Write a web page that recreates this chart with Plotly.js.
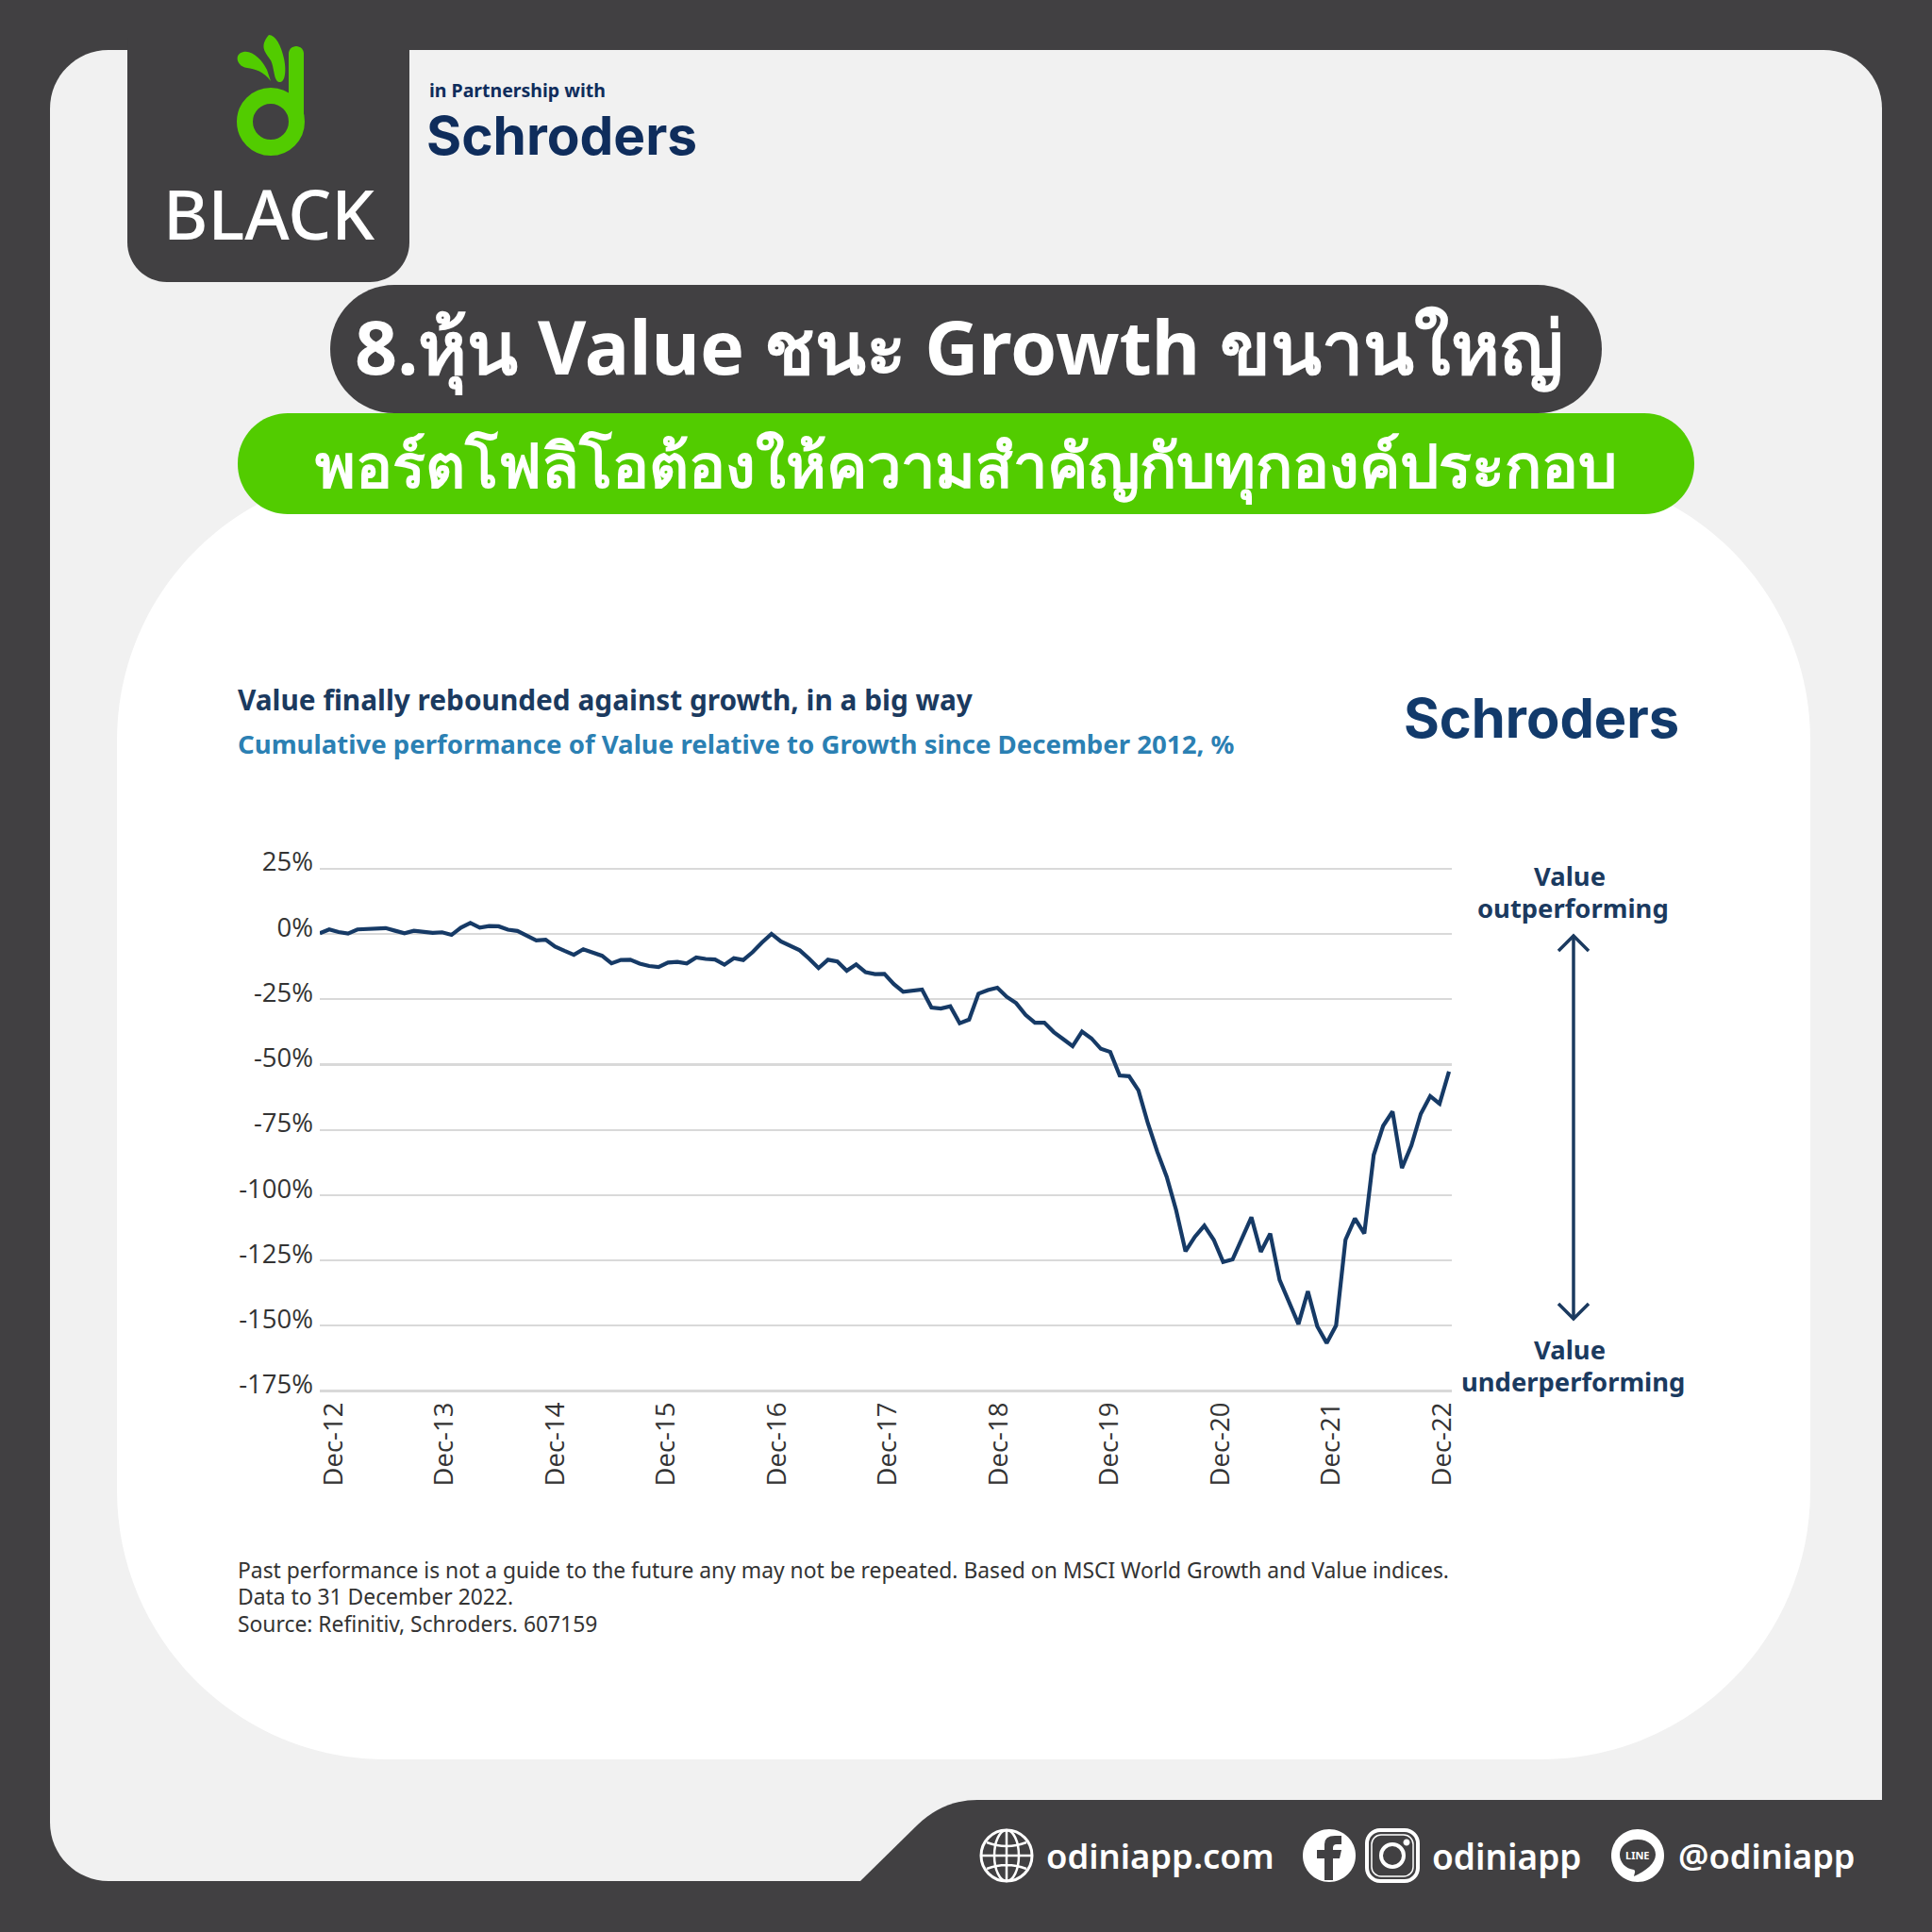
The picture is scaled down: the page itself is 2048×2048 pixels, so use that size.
<!DOCTYPE html>
<html><head><meta charset="utf-8">
<script src="https://cdn.plot.ly/plotly-3.0.1.min.js"></script>
<style>html,body{margin:0;padding:0;background:#414042}#c{width:2048px;height:2048px}</style>
</head><body><div id="c"></div>
<script>
// ---------- chart data ----------
const relativePerformance = [
 0.2,1.7,0.7,0.1,1.7,1.8,2.2,2.2,1.2,0.2,1.2,0.8,0.4,0.6,-0.4,2.4,4.2,2.4,3.0,2.9,1.6,
 1.1,-0.5,-2.5,-2.2,-4.9,-6.5,-8.0,-5.9,-7.2,-8.4,-11.3,-10.0,-9.9,-11.4,-12.3,-12.7,-11.0,-10.7,-11.3,-9.0,
 -9.6,-9.8,-11.8,-9.3,-10.0,-7.0,-3.3,0.0,-2.9,-4.6,-6.3,-9.5,-13.1,-9.9,-10.6,-14.1,-11.7,-14.7,-15.4,-15.3,
 -19.2,-22.2,-21.6,-21.3,-28.2,-28.6,-27.7,-34.2,-32.8,-22.9,-21.5,-20.6,-24.1,-26.5,-31.0,-34.0,-34.0,-37.6,-40.3,-43.0,
 -37.4,-40.0,-44.0,-45.2,-54.2,-54.5,-59.9,-72.5,-83.4,-93.0,-105.7,-121.5,-115.9,-111.7,-117.1,-125.6,-124.6,-116.2,-108.5,-121.7,
 -114.7,-132.5,-141.2,-149.4,-136.8,-150.2,-156.6,-149.9,-117.1,-108.9,-114.7,-84.6,-73.5,-68.0,-89.6,-81.0,-68.9,-62.1,-65.0,-52.7
];
const monthIndex = relativePerformance.map((_, i) => i);
const yTickValues = [25,0,-25,-50,-75,-100,-125,-150,-175];
const yTickLabels = ['25%','0%','-25%','-50%','-75%','-100%','-125%','-150%','-175%'];
const xTickLabels = ['Dec-12','Dec-13','Dec-14','Dec-15','Dec-16','Dec-17','Dec-18','Dec-19','Dec-20','Dec-21','Dec-22'];
const xTickMonths = [1.5,13.28,25.06,36.84,48.62,60.4,72.18,83.96,95.74,107.52,119.3];

// ---------- text ----------
const headline = '8.หุ้น Value ชนะ Growth ขนานใหญ่';
const subHeadline = 'พอร์ตโฟลิโอต้องให้ความสำคัญกับทุกองค์ประกอบ';
const chartTitle = 'Value finally rebounded against growth, in a big way';
const chartSubtitle = 'Cumulative performance of Value relative to Growth since December 2012, %';
const footnotes = ['Past performance is not a guide to the future any may not be repeated. Based on MSCI World Growth and Value indices.','Data to 31 December 2022.','Source: Refinitiv, Schroders. 607159'];

// ---------- helpers: pixel -> paper ----------
const S = 2048;
const DARK='#414042', PANEL='#f1f1f1', GREEN='#52cc00', NAVY='#0f2d5c', INK='#1b3a5f';
const pth = s => s.replace(/(-?\d+\.?\d*)[ ,]+(-?\d+\.?\d*)/g,(m,a,b)=>(a/S).toFixed(5)+','+(1-b/S).toFixed(5));
const shapes = [], annotations = [];
function fill(d,color,layer){shapes.push({type:'path',xref:'paper',yref:'paper',path:pth(d),fillcolor:color,line:{width:0},layer:layer||'below'});}
function stroke(d,color,w,layer){shapes.push({type:'path',xref:'paper',yref:'paper',path:pth(d),line:{color:color,width:w},layer:layer||'below'});}
function rr(x0,y0,x1,y1,tl,tr,br,bl){
  const k=0.5523;
  if(tr===undefined){tr=br=bl=tl;}
  return `M ${x0+tl} ${y0} L ${x1-tr} ${y0} C ${x1-tr+tr*k} ${y0} ${x1} ${y0+tr-tr*k} ${x1} ${y0+tr} L ${x1} ${y1-br} C ${x1} ${y1-br+br*k} ${x1-br+br*k} ${y1} ${x1-br} ${y1} L ${x0+bl} ${y1} C ${x0+bl-bl*k} ${y1} ${x0} ${y1-bl+bl*k} ${x0} ${y1-bl} L ${x0} ${y0+tl} C ${x0} ${y0+tl-tl*k} ${x0+tl-tl*k} ${y0} ${x0+tl} ${y0} Z`;
}
function ellipse(cx,cy,rx,ry){const k=0.5523;return `M ${cx-rx} ${cy} C ${cx-rx} ${cy-ry*k} ${cx-rx*k} ${cy-ry} ${cx} ${cy-ry} C ${cx+rx*k} ${cy-ry} ${cx+rx} ${cy-ry*k} ${cx+rx} ${cy} C ${cx+rx} ${cy+ry*k} ${cx+rx*k} ${cy+ry} ${cx} ${cy+ry} C ${cx-rx*k} ${cy+ry} ${cx-rx} ${cy+ry*k} ${cx-rx} ${cy} Z`;}
function txt(t,x,y,size,color,anchor,weight,family){annotations.push({text:t,xref:'paper',yref:'paper',x:x/S,y:1-y/S,xanchor:anchor||'left',yanchor:'middle',showarrow:false,align:anchor||'left',font:{size:size,color:color,weight:weight||400,family:family||'"Noto Sans","Open Sans",sans-serif'}});}

// ---------- frame ----------
fill(rr(53,53,1995,1994,62,62,0,62),PANEL);
fill(rr(124,500,1919,1865,285),'#ffffff');
fill('M 912 1994 L 972 1935 Q 1000 1908 1036 1908 L 1995 1908 L 1995 1994 Z',DARK);
fill(rr(135,40,434,299,0,0,42,42),DARK);
fill(rr(350,302,1698,438,68),DARK);
fill(rr(252,438,1796,545,53),GREEN);

// ---------- odini logo ----------
stroke(ellipse(287,129,27.5,27.5),GREEN,17);
fill(rr(306,49,322,130,8),GREEN);
fill('M 285 37 C 292 37 298 48 301 62 C 304 76 302 88 296 87 C 290 86 291 72 287 64 C 282 56 274 50 285 37 Z',GREEN);
fill('M 258 55 C 268 53 278 64 283 74 L 287 86 C 280 76 270 73 262 72 C 250 70 248 57 258 55 Z',GREEN);
txt('BLACK',285,225,72.5,'#ffffff','center',500);
txt('in Partnership with',453,95,19.5,NAVY,'left',700);
txt('Schroders',450,143,56.8,NAVY,'left',700,'Inter,"Noto Sans",sans-serif');

// ---------- headlines ----------
txt(headline,1016,366,79,'#ffffff','center',700);
txt(subHeadline,1024,492,65,'#ffffff','center',700);

// ---------- chart furniture ----------
txt(chartTitle,250,741,29.8,INK,'left',700);
txt(chartSubtitle,250,788,27.6,'#2b80b3','left',700);
txt('Schroders',1486,761,57.8,'#123a6b','left',700,'Inter,"Noto Sans",sans-serif');
txt('Value',1664,928,27.4,INK,'center',700);
txt('outperforming',1667,962,27.4,INK,'center',700);
txt('Value',1664,1430,27.4,INK,'center',700);
txt('underperforming',1667,1464,27.4,INK,'center',700);
stroke('M 1668 993 L 1668 1397',INK,3.5,'above');
stroke('M 1652 1008 L 1668 992 L 1684 1008',INK,3.5,'above');
stroke('M 1652 1382 L 1668 1398 L 1684 1382',INK,3.5,'above');
footnotes.forEach((t,i)=>txt(t,250,1664+i*28.5,22.85,'#333333','left',400));

// ---------- footer ----------
const FW=1967;
stroke(ellipse(1067,FW,27,27),'#fff',3);
stroke(ellipse(1067,FW,13,27),'#fff',2.5);
stroke(`M 1067 ${FW-27} L 1067 ${FW+27} M 1040 ${FW} L 1094 ${FW} M 1046 ${FW-14} Q 1067 ${FW-6} 1088 ${FW-14} M 1046 ${FW+14} Q 1067 ${FW+6} 1088 ${FW+14}`,'#fff',2.5);
txt('odiniapp.com',1107,1967,36.4,'#fff','left',600);
fill(ellipse(1409,FW,28,28),'#fff');
fill(`M 1404 ${FW+26} L 1404 ${FW+3} L 1396 ${FW+3} L 1396 ${FW-6} L 1404 ${FW-6} L 1404 ${FW-12} Q 1404 ${FW-21} 1415 ${FW-21} L 1422 ${FW-21} L 1422 ${FW-12} L 1417 ${FW-12} Q 1413 ${FW-12} 1413 ${FW-8} L 1413 ${FW-6} L 1422 ${FW-6} L 1420 ${FW+3} L 1413 ${FW+3} L 1413 ${FW+26} Z`,DARK);
stroke(rr(1449,FW-27,1503,FW+27,14),'#fff',4);
stroke(rr(1454,FW-22,1498,FW+22,10),'#fff',1.5);
stroke(ellipse(1476,FW,12,12),'#fff',4);
fill(ellipse(1491,FW-14,3.5,3.5),'#fff');
txt('odiniapp',1516,1967,37,'#fff','left',600);
fill(ellipse(1736,FW,28,28),'#fff');
fill(`M 1736 ${FW-17} C 1748 ${FW-17} 1755 ${FW-9} 1755 ${FW-1} C 1755 ${FW+8} 1745 ${FW+16} 1732 ${FW+22} C 1733 ${FW+18} 1734 ${FW+16} 1732 ${FW+15} C 1723 ${FW+14} 1717 ${FW+7} 1717 ${FW-1} C 1717 ${FW-9} 1724 ${FW-17} 1736 ${FW-17} Z`,DARK);
txt('LINE',1736,FW-1,11,'#fff','center',700);
txt('@odiniapp',1777,1967,36.2,'#fff','left',600);

// ---------- chart ----------
const trace = {type:'scatter',mode:'lines',x:monthIndex,y:relativePerformance,line:{color:'#163a66',width:4.2,shape:'linear'},hoverinfo:'skip'};
const pxPerPct = 2.768, pad = 2;
const layout = {
  width:S,height:S,margin:{l:0,r:0,t:0,b:0},paper_bgcolor:DARK,plot_bgcolor:'rgba(0,0,0,0)',showlegend:false,
  shapes,annotations,
  xaxis:{domain:[339/S,1539/S],range:[0,120.3],tickmode:'array',tickvals:xTickMonths,ticktext:xTickLabels,tickangle:-90,showgrid:false,zeroline:false,showline:false,ticks:'',
    ticklabelstandoff:0,tickfont:{size:27.5,color:'#333333',family:'"Open Sans","Noto Sans",sans-serif'}},
  yaxis:{domain:[1-(1474.6+pad*pxPerPct)/S,1-(920.7-pad*pxPerPct)/S],range:[-175-pad,25+pad],tickmode:'array',tickvals:yTickValues,ticktext:yTickLabels,showgrid:true,gridcolor:'#d9d9d9',gridwidth:2.2,zeroline:false,showline:false,ticks:'',
    ticklabelstandoff:6,ticklabelshift:-7,tickfont:{size:27.5,color:'#333333',family:'"Open Sans","Noto Sans",sans-serif'}}
};
Plotly.newPlot('c',[trace],layout,{displayModeBar:false,staticPlot:true});
</script></body></html>
